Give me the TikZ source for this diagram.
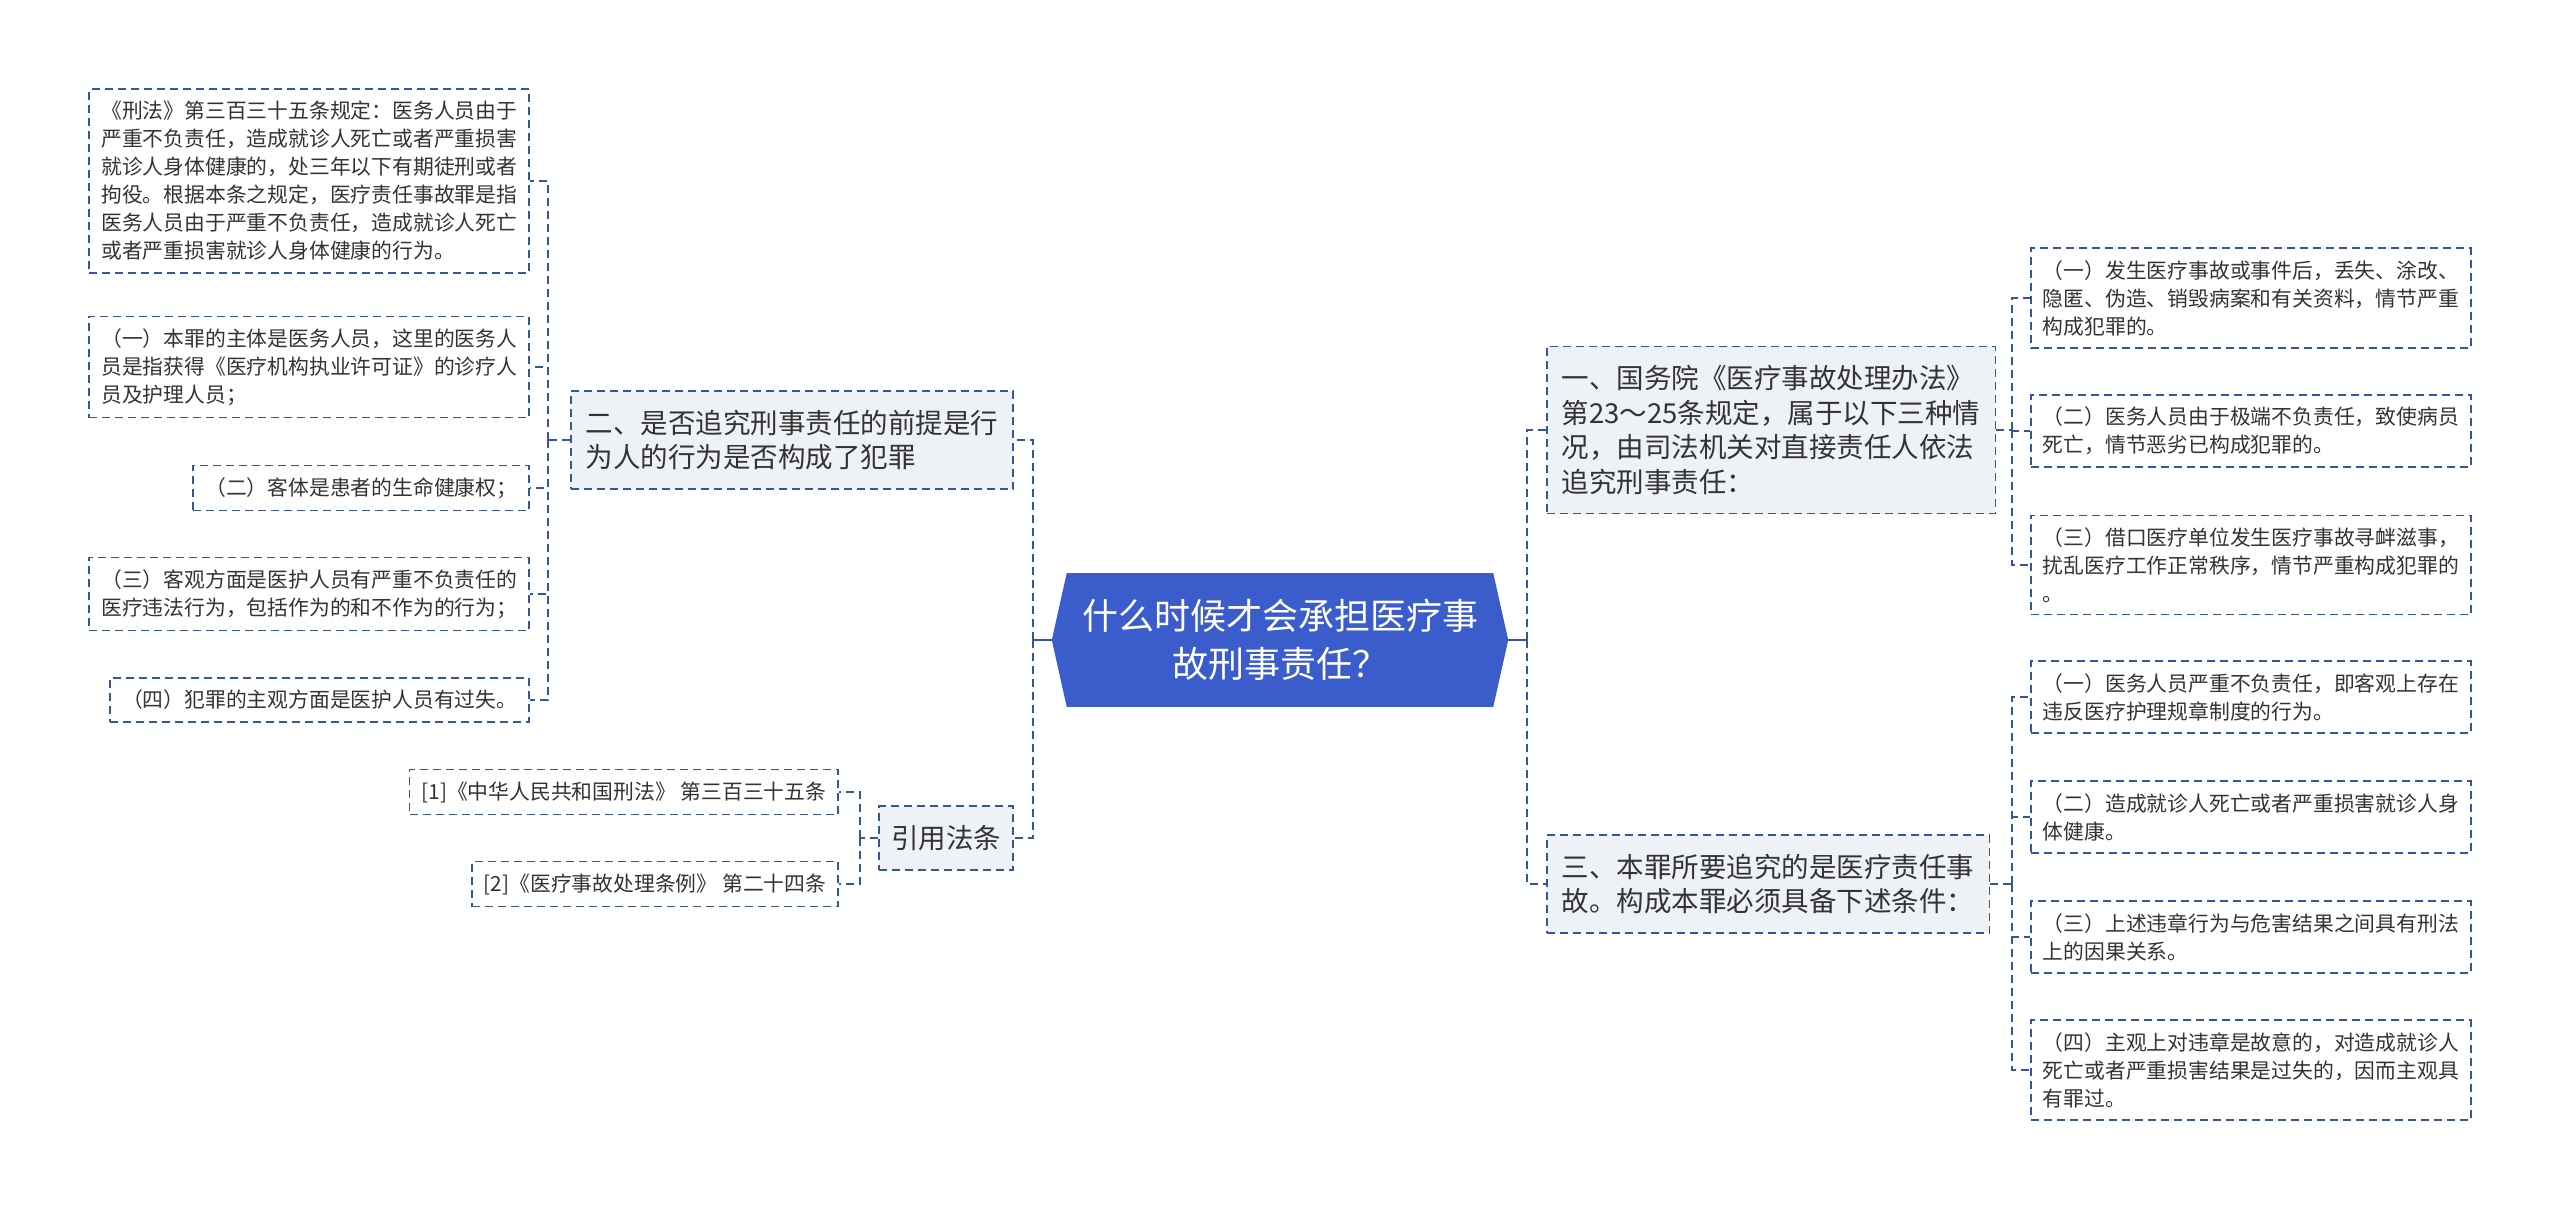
\documentclass[tikz,border=0pt]{standalone}
\usepackage{fontspec}
\setmainfont{Noto Sans CJK SC}
\usetikzlibrary{calc}
\definecolor{lineblue}{HTML}{34569E}
\definecolor{textgray}{HTML}{333333}
\definecolor{lvlfill}{HTML}{EEF1F6}
\definecolor{rootblue}{HTML}{3B5CCB}
\tikzset{
  leaf/.style={draw=lineblue, line width=1.6pt, dash pattern=on 8pt off 5pt, align=left,
    font=\fontsize{20.8}{28}\selectfont, text=textgray, inner xsep=12pt, inner ysep=12pt},
  midbox/.style={draw=lineblue, line width=1.6pt, dash pattern=on 8pt off 5pt, align=left, fill=lvlfill,
    font=\fontsize{27.5}{34.5}\selectfont, text=textgray, inner xsep=15pt, inner ysep=19pt},
  rootbox/.style={fill=rootblue, text=white, minimum width=426pt, minimum height=134pt,
    align=center, font=\fontsize{36}{48}\selectfont, inner sep=0pt},
  conn/.style={draw=lineblue, line width=1.6pt, dash pattern=on 8pt off 5pt},
  solidconn/.style={draw=lineblue, line width=1.6pt},
}
\begin{document}
\begin{tikzpicture}[x=1pt, y=-1pt]
\useasboundingbox (0,0) rectangle (2560,1211);
\fill[white] (0,0) rectangle (2560,1211);

% root
\node[rootbox] (root) at (1280,640) {什么时候才会承担医疗事\\故刑事责任？};
\coordinate (rootL) at ($(root.west)+(-15,0)$);
\coordinate (rootR) at ($(root.east)+(15,0)$);
\fill[rootblue] (root.north west) -- (rootL) -- (root.south west) -- cycle;
\fill[rootblue] (root.north east) -- (rootR) -- (root.south east) -- cycle;

% level 1
\node[midbox, anchor=east] (n2) at (1014,440) {二、是否追究刑事责任的前提是行\\为人的行为是否构成了犯罪};
\node[midbox, anchor=east, inner xsep=12pt] (ref) at (1014,838) {引用法条};
\node[midbox, anchor=west] (n1) at (1546,430) {一、国务院《医疗事故处理办法》\\第23～25条规定，属于以下三种情\\况，由司法机关对直接责任人依法\\追究刑事责任：};
\node[midbox, anchor=west] (n3) at (1546,884) {三、本罪所要追究的是医疗责任事\\故。构成本罪必须具备下述条件：};

% left leaves of n2
\node[leaf, anchor=east] (a) at (530,181) {《刑法》第三百三十五条规定：医务人员由于\\严重不负责任，造成就诊人死亡或者严重损害\\就诊人身体健康的，处三年以下有期徒刑或者\\拘役。根据本条之规定，医疗责任事故罪是指\\医务人员由于严重不负责任，造成就诊人死亡\\或者严重损害就诊人身体健康的行为。};
\node[leaf, anchor=east] (b) at (530,367) {（一）本罪的主体是医务人员，这里的医务人\\员是指获得《医疗机构执业许可证》的诊疗人\\员及护理人员；};
\node[leaf, anchor=east] (c) at (530,488) {（二）客体是患者的生命健康权；};
\node[leaf, anchor=east] (d) at (530,594) {（三）客观方面是医护人员有严重不负责任的\\医疗违法行为，包括作为的和不作为的行为；};
\node[leaf, anchor=east] (e) at (530,700) {（四）犯罪的主观方面是医护人员有过失。};

% references
\node[leaf, anchor=east] (r1) at (839,792) {[1]《中华人民共和国刑法》 第三百三十五条};
\node[leaf, anchor=east] (r2) at (839,884) {[2]《医疗事故处理条例》 第二十四条};

% right leaves of n1
\node[leaf, anchor=west] (p1) at (2030,298) {（一）发生医疗事故或事件后，丢失、涂改、\\隐匿、伪造、销毁病案和有关资料，情节严重\\构成犯罪的。};
\node[leaf, anchor=west] (p2) at (2030,431) {（二）医务人员由于极端不负责任，致使病员\\死亡，情节恶劣已构成犯罪的。};
\node[leaf, anchor=west] (p3) at (2030,565) {（三）借口医疗单位发生医疗事故寻衅滋事，\\扰乱医疗工作正常秩序，情节严重构成犯罪的\\。};

% right leaves of n3
\node[leaf, anchor=west] (q1) at (2030,697) {（一）医务人员严重不负责任，即客观上存在\\违反医疗护理规章制度的行为。};
\node[leaf, anchor=west] (q2) at (2030,817) {（二）造成就诊人死亡或者严重损害就诊人身\\体健康。};
\node[leaf, anchor=west] (q3) at (2030,937) {（三）上述违章行为与危害结果之间具有刑法\\上的因果关系。};
\node[leaf, anchor=west] (q4) at (2030,1070) {（四）主观上对违章是故意的，对造成就诊人\\死亡或者严重损害结果是过失的，因而主观具\\有罪过。};

% junction coordinates
\coordinate (lj) at (1033,640);
\coordinate (rj) at (1527,640);
\coordinate (n2j) at (548,440);
\coordinate (refj) at (860,838);
\coordinate (n1j) at (2012,430);
\coordinate (n3j) at (2012,884);

% connectors
\draw[solidconn] (rootL) -- (lj);
\draw[solidconn] (rootR) -- (rj);
\draw[conn] (lj) |- (n2.east);
\draw[conn] (lj) |- (ref.east);
\draw[conn] (rj) |- (n1.west);
\draw[conn] (rj) |- (n3.west);

\draw[conn] (n2.west) -- (n2j);
\foreach \t in {a,b,c,d,e} \draw[conn] (n2j) |- (\t.east);
\draw[conn] (ref.west) -- (refj);
\foreach \t in {r1,r2} \draw[conn] (refj) |- (\t.east);
\draw[conn] (n1.east) -- (n1j);
\foreach \t in {p1,p2,p3} \draw[conn] (n1j) |- (\t.west);
\draw[conn] (n3.east) -- (n3j);
\foreach \t in {q1,q2,q3,q4} \draw[conn] (n3j) |- (\t.west);
\end{tikzpicture}
\end{document}
